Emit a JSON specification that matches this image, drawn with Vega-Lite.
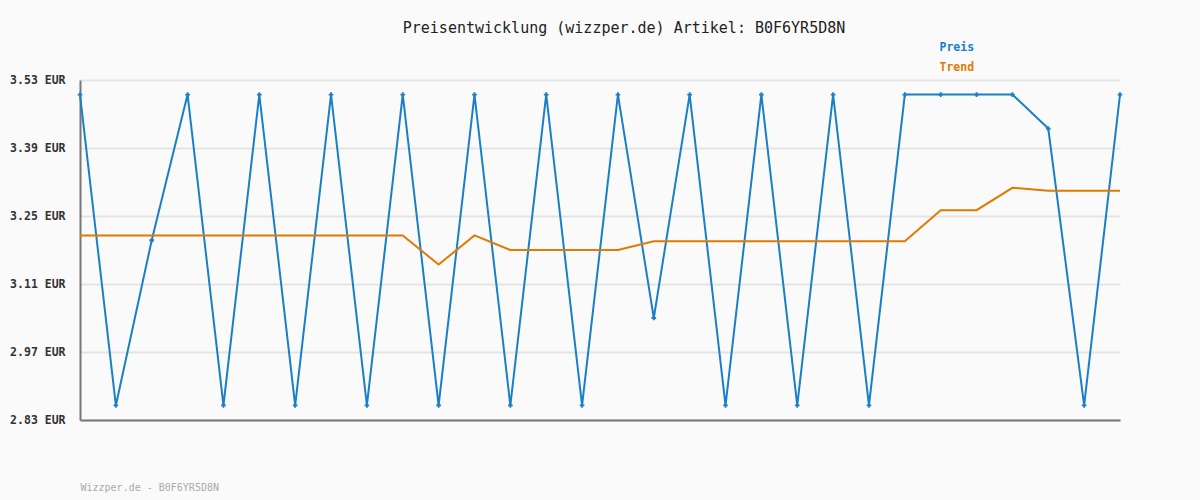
{
  "$schema": "https://vega.github.io/schema/vega-lite/v6.json",
  "width": 1040,
  "height": 340,
  "autosize": "none",
  "padding": {"left": 80, "top": 80, "right": 80, "bottom": 80},
  "background": "#fafafa",
  "title": {
    "text": "Preisentwicklung (wizzper.de) Artikel: B0F6YR5D8N",
    "font": "DejaVu Sans Mono",
    "fontSize": 15,
    "fontWeight": "normal",
    "color": "#222222",
    "anchor": "middle",
    "frame": "group",
    "dx": 24,
    "offset": 6
  },
  "config": {
    "view": {"stroke": null},
    "font": "DejaVu Sans Mono"
  },
  "data": {
    "values": [
      {"i": 0, "series": "Preis", "price": 3.50},
      {"i": 1, "series": "Preis", "price": 2.86},
      {"i": 2, "series": "Preis", "price": 3.20},
      {"i": 3, "series": "Preis", "price": 3.50},
      {"i": 4, "series": "Preis", "price": 2.86},
      {"i": 5, "series": "Preis", "price": 3.50},
      {"i": 6, "series": "Preis", "price": 2.86},
      {"i": 7, "series": "Preis", "price": 3.50},
      {"i": 8, "series": "Preis", "price": 2.86},
      {"i": 9, "series": "Preis", "price": 3.50},
      {"i": 10, "series": "Preis", "price": 2.86},
      {"i": 11, "series": "Preis", "price": 3.50},
      {"i": 12, "series": "Preis", "price": 2.86},
      {"i": 13, "series": "Preis", "price": 3.50},
      {"i": 14, "series": "Preis", "price": 2.86},
      {"i": 15, "series": "Preis", "price": 3.50},
      {"i": 16, "series": "Preis", "price": 3.04},
      {"i": 17, "series": "Preis", "price": 3.50},
      {"i": 18, "series": "Preis", "price": 2.86},
      {"i": 19, "series": "Preis", "price": 3.50},
      {"i": 20, "series": "Preis", "price": 2.86},
      {"i": 21, "series": "Preis", "price": 3.50},
      {"i": 22, "series": "Preis", "price": 2.86},
      {"i": 23, "series": "Preis", "price": 3.50},
      {"i": 24, "series": "Preis", "price": 3.50},
      {"i": 25, "series": "Preis", "price": 3.50},
      {"i": 26, "series": "Preis", "price": 3.50},
      {"i": 27, "series": "Preis", "price": 3.43},
      {"i": 28, "series": "Preis", "price": 2.86},
      {"i": 29, "series": "Preis", "price": 3.50},
      {"i": 0, "series": "Trend", "price": 3.21},
      {"i": 1, "series": "Trend", "price": 3.21},
      {"i": 2, "series": "Trend", "price": 3.21},
      {"i": 3, "series": "Trend", "price": 3.21},
      {"i": 4, "series": "Trend", "price": 3.21},
      {"i": 5, "series": "Trend", "price": 3.21},
      {"i": 6, "series": "Trend", "price": 3.21},
      {"i": 7, "series": "Trend", "price": 3.21},
      {"i": 8, "series": "Trend", "price": 3.21},
      {"i": 9, "series": "Trend", "price": 3.21},
      {"i": 10, "series": "Trend", "price": 3.15},
      {"i": 11, "series": "Trend", "price": 3.21},
      {"i": 12, "series": "Trend", "price": 3.18},
      {"i": 13, "series": "Trend", "price": 3.18},
      {"i": 14, "series": "Trend", "price": 3.18},
      {"i": 15, "series": "Trend", "price": 3.18},
      {"i": 16, "series": "Trend", "price": 3.198},
      {"i": 17, "series": "Trend", "price": 3.198},
      {"i": 18, "series": "Trend", "price": 3.198},
      {"i": 19, "series": "Trend", "price": 3.198},
      {"i": 20, "series": "Trend", "price": 3.198},
      {"i": 21, "series": "Trend", "price": 3.198},
      {"i": 22, "series": "Trend", "price": 3.198},
      {"i": 23, "series": "Trend", "price": 3.198},
      {"i": 24, "series": "Trend", "price": 3.262},
      {"i": 25, "series": "Trend", "price": 3.262},
      {"i": 26, "series": "Trend", "price": 3.308},
      {"i": 27, "series": "Trend", "price": 3.302},
      {"i": 28, "series": "Trend", "price": 3.302},
      {"i": 29, "series": "Trend", "price": 3.302}
    ]
  },
  "encoding": {
    "x": {
      "field": "i",
      "type": "quantitative",
      "scale": {"domain": [0, 29], "nice": false, "zero": false},
      "axis": {
        "title": "Wizzper.de - B0F6YR5D8N",
        "titleFont": "DejaVu Sans Mono",
        "titleFontSize": 10,
        "titleFontWeight": "normal",
        "titleColor": "#aaaaaa",
        "titleAnchor": "start",
        "titleAlign": "left",
        "titleBaseline": "middle",
        "titleY": 67,
        "titleX": 0,
        "labels": false,
        "ticks": false,
        "grid": false,
        "domainColor": "#777777",
        "domainWidth": 2
      }
    },
    "y": {
      "field": "price",
      "type": "quantitative",
      "scale": {"domain": [2.83, 3.53], "nice": false, "zero": false},
      "axis": {
        "title": null,
        "values": [2.83, 2.97, 3.11, 3.25, 3.39, 3.53],
        "labelExpr": "format(datum.value, '.2f') + ' EUR'",
        "labelFont": "DejaVu Sans Mono",
        "labelFontSize": 11.5,
        "labelFontWeight": "bold",
        "labelColor": "#333333",
        "labelPadding": 15,
        "ticks": false,
        "gridColor": "#e4e4e4",
        "gridWidth": 2,
        "domainColor": "#777777",
        "domainWidth": 2
      }
    },
    "color": {
      "field": "series",
      "type": "nominal",
      "scale": {"domain": ["Preis", "Trend"], "range": ["#1a7fc9", "#e07b00"]},
      "legend": {
        "title": null,
        "orient": "none",
        "legendX": 848,
        "legendY": -38,
        "symbolOpacity": 0,
        "symbolSize": 0,
        "symbolStrokeWidth": 0,
        "labelFont": "DejaVu Sans Mono",
        "labelFontSize": 11.5,
        "labelFontWeight": "bold",
        "rowPadding": 7,
        "labelOffset": 0,
        "encode": {
          "labels": {"update": {"fill": {"scale": "color", "field": "value"}}}
        }
      }
    }
  },
  "layer": [
    {
      "mark": {"type": "line", "strokeWidth": 2}
    },
    {
      "transform": [{"filter": "datum.series === 'Preis'"}],
      "mark": {"type": "point", "shape": "cross", "filled": true, "size": 22, "opacity": 1}
    }
  ]
}
